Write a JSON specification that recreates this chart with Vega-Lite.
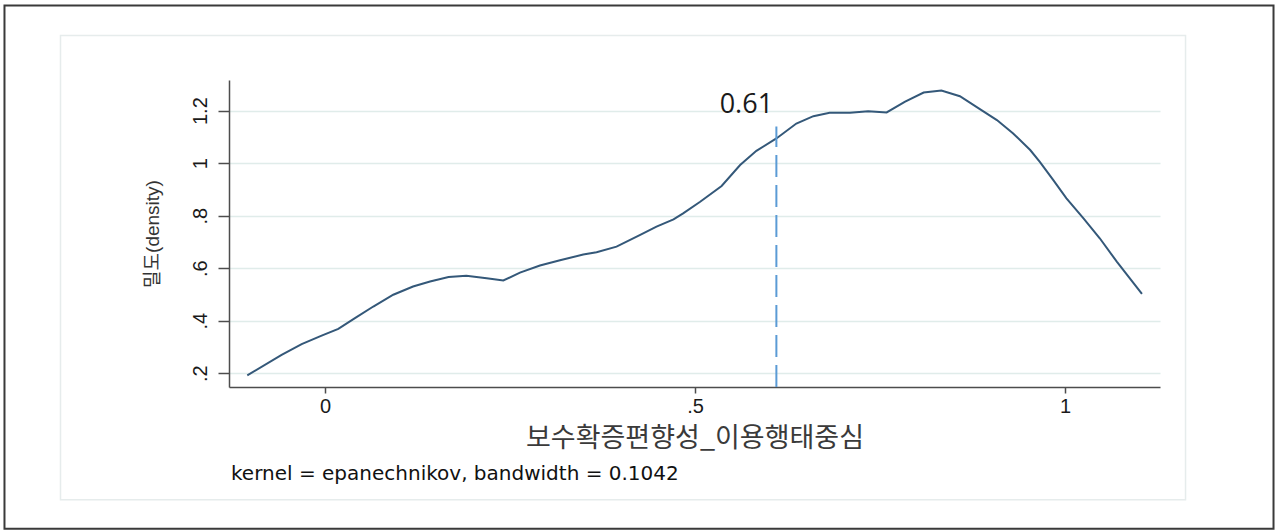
{
  "$schema": "https://vega.github.io/schema/vega-lite/v6.json",
  "width": 931,
  "height": 307,
  "autosize": {"type": "none"},
  "padding": {"left": 229, "top": 80, "right": 116, "bottom": 144},
  "background": "white",
  "config": {
    "view": {"stroke": null},
    "font": "Liberation Sans"
  },
  "datasets": {
    "density": [
      {"x": -0.105, "d": 0.192}, {"x": -0.0586, "d": 0.270}, {"x": -0.0315, "d": 0.311},
      {"x": -0.0045, "d": 0.343}, {"x": 0.018, "d": 0.369}, {"x": 0.0405, "d": 0.410},
      {"x": 0.0653, "d": 0.454}, {"x": 0.0923, "d": 0.499}, {"x": 0.119, "d": 0.530},
      {"x": 0.142, "d": 0.549}, {"x": 0.167, "d": 0.566}, {"x": 0.191, "d": 0.571},
      {"x": 0.2185, "d": 0.562}, {"x": 0.241, "d": 0.553}, {"x": 0.2635, "d": 0.583},
      {"x": 0.2905, "d": 0.610}, {"x": 0.3176, "d": 0.630}, {"x": 0.349, "d": 0.652},
      {"x": 0.367, "d": 0.661}, {"x": 0.394, "d": 0.682}, {"x": 0.426, "d": 0.727},
      {"x": 0.448, "d": 0.758}, {"x": 0.471, "d": 0.786}, {"x": 0.484, "d": 0.809},
      {"x": 0.507, "d": 0.853}, {"x": 0.536, "d": 0.913}, {"x": 0.561, "d": 0.993},
      {"x": 0.583, "d": 1.047}, {"x": 0.610, "d": 1.094}, {"x": 0.637, "d": 1.151},
      {"x": 0.660, "d": 1.179}, {"x": 0.682, "d": 1.192}, {"x": 0.7095, "d": 1.192},
      {"x": 0.734, "d": 1.198}, {"x": 0.759, "d": 1.193}, {"x": 0.784, "d": 1.234},
      {"x": 0.809, "d": 1.269}, {"x": 0.833, "d": 1.277}, {"x": 0.858, "d": 1.255},
      {"x": 0.885, "d": 1.206}, {"x": 0.908, "d": 1.164}, {"x": 0.930, "d": 1.113},
      {"x": 0.953, "d": 1.050}, {"x": 0.966, "d": 1.005}, {"x": 0.984, "d": 0.936},
      {"x": 1.002, "d": 0.866}, {"x": 1.025, "d": 0.790}, {"x": 1.047, "d": 0.714},
      {"x": 1.070, "d": 0.625}, {"x": 1.104, "d": 0.502}
    ],
    "cutoff": [{"cut": 0.61}],
    "note": [{"text": "kernel = epanechnikov, bandwidth = 0.1042"}]
  },
  "layer": [
    {
      "description": "outer graph border",
      "data": {"name": "note"},
      "mark": {"type": "rect", "fill": "transparent", "stroke": "#3a3a3a", "strokeWidth": 2, "clip": false},
      "encoding": {
        "x": {"datum": -0.4331, "type": "quantitative"},
        "x2": {"datum": 1.2818},
        "y": {"datum": 1.6, "type": "quantitative"},
        "y2": {"datum": -0.3924}
      }
    },
    {
      "description": "inner graph region",
      "data": {"name": "note"},
      "mark": {"type": "rect", "fill": "transparent", "stroke": "#e6ecec", "strokeWidth": 1.5, "clip": false},
      "encoding": {
        "x": {"datum": -0.3574, "type": "quantitative"},
        "x2": {"datum": 1.1629},
        "y": {"datum": 1.4859, "type": "quantitative"},
        "y2": {"datum": -0.2822}
      }
    },
    {
      "data": {"name": "density"},
      "mark": {"type": "line", "color": "#345879", "strokeWidth": 2, "interpolate": "linear"},
      "encoding": {
        "x": {
          "field": "x",
          "type": "quantitative",
          "scale": {"domain": [-0.1297, 1.1284], "nice": false, "zero": false},
          "axis": {
            "values": [0, 0.5, 1],
            "grid": false,
            "domainColor": "#4d4d4d",
            "domainWidth": 1.5,
            "tickColor": "#4d4d4d",
            "tickWidth": 1.5,
            "tickSize": 6,
            "labelFont": "Liberation Sans",
            "labelFontSize": 20,
            "labelColor": "#1a1a1a",
            "labelPadding": 3,
            "labelExpr": "datum.value > 0 && datum.value < 1 ? slice(format(datum.value, '.1f'), 1) : format(datum.value, '~g')",
            "title": "보수확증편향성_이용행태중심",
            "titleFont": "Noto Sans CJK KR",
            "titleFontSize": 27,
            "titleFontWeight": "normal",
            "titleColor": "#3a3a3a",
            "titlePadding": 9
          }
        },
        "y": {
          "field": "d",
          "type": "quantitative",
          "scale": {"domain": [0.1475, 1.3167], "nice": false, "zero": false},
          "axis": {
            "values": [0.2, 0.4, 0.6, 0.8, 1, 1.2],
            "grid": true,
            "gridColor": "#e0ecea",
            "gridWidth": 1.5,
            "domainColor": "#4d4d4d",
            "domainWidth": 1.5,
            "tickColor": "#4d4d4d",
            "tickWidth": 1.5,
            "tickSize": 11,
            "labelAngle": 270,
            "labelFont": "Liberation Sans",
            "labelFontSize": 20,
            "labelColor": "#1a1a1a",
            "labelPadding": 8,
            "labelExpr": "datum.value > 0 && datum.value < 1 ? slice(format(datum.value, '.1f'), 1) : format(datum.value, '~g')",
            "title": "밀도(density)",
            "titleFont": "Liberation Sans, Noto Sans CJK KR",
            "titleFontSize": 19,
            "titleFontWeight": "normal",
            "titleColor": "#333333",
            "titlePadding": 28
          }
        }
      }
    },
    {
      "data": {"name": "cutoff"},
      "mark": {"type": "rule", "color": "#5b9bd5", "strokeWidth": 2, "strokeDash": [22, 8]},
      "encoding": {
        "x": {"field": "cut", "type": "quantitative"},
        "y": {"datum": 0.1475, "type": "quantitative"},
        "y2": {"datum": 1.14}
      }
    },
    {
      "data": {"name": "cutoff"},
      "mark": {"type": "text", "font": "Open Sans", "fontSize": 27, "color": "#1a1a1a", "align": "center", "baseline": "alphabetic", "dx": -30},
      "encoding": {
        "x": {"field": "cut", "type": "quantitative"},
        "y": {"datum": 1.19, "type": "quantitative"},
        "text": {"field": "cut", "type": "quantitative", "format": ".2f"}
      }
    },
    {
      "description": "kernel note below the axis title",
      "data": {"name": "note"},
      "mark": {"type": "text", "font": "DejaVu Sans", "fontSize": 20, "color": "#111111", "align": "left", "baseline": "middle", "dx": 2, "clip": false},
      "encoding": {
        "x": {"datum": -0.1297, "type": "quantitative"},
        "y": {"datum": -0.1833, "type": "quantitative"},
        "text": {"field": "text", "type": "nominal"}
      }
    }
  ]
}
